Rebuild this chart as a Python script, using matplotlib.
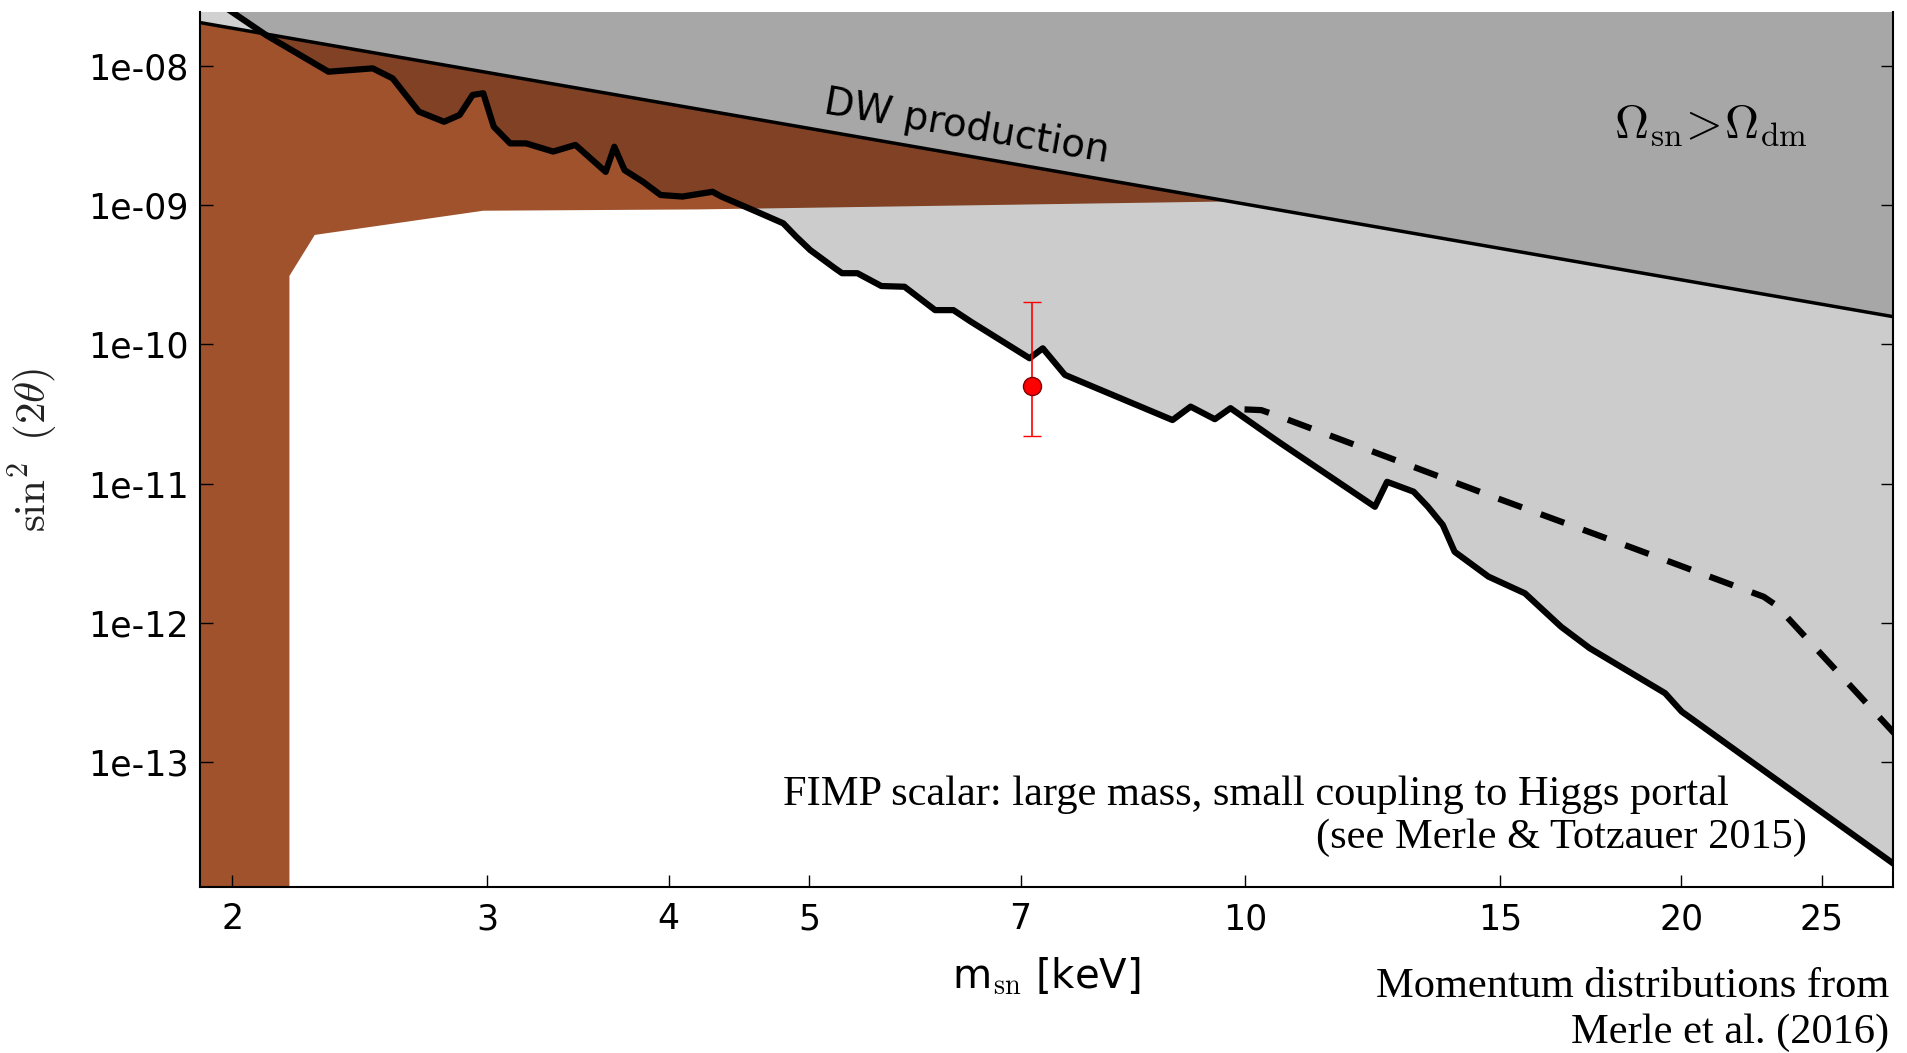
# sterile neutrino parameter space: X-ray limits, DW line, structure formation
import matplotlib
matplotlib.use('Agg')
import matplotlib.pyplot as plt

plt.rcParams['mathtext.fontset'] = 'cm'

# X-ray bound (thick solid line)
mass_xray = [1.99, 2.11, 2.33, 2.50, 2.58, 2.69, 2.80, 2.87, 2.93, 2.98,
             3.03, 3.11, 3.19, 3.33, 3.45, 3.62, 3.67, 3.73, 3.84, 3.95,
             4.09, 4.29, 4.35, 4.47, 4.63, 4.80, 4.90, 5.01, 5.21, 5.27,
             5.40, 5.61, 5.82, 6.11, 6.29, 6.47, 7.10, 7.25, 7.51, 8.91,
             9.17, 9.53, 9.77, 10.34, 10.58, 12.29, 12.53, 13.07, 13.37, 13.69,
             13.95, 14.72, 15.60, 16.52, 17.29, 19.49, 20.01, 28.2]
sin_xray = [2.51e-8, 1.66e-8, 9.06e-9, 9.57e-9, 8.12e-9, 4.68e-9, 3.96e-9, 4.43e-9, 6.17e-9, 6.34e-9,
            3.65e-9, 2.77e-9, 2.77e-9, 2.42e-9, 2.70e-9, 1.73e-9, 2.62e-9, 1.78e-9, 1.47e-9, 1.18e-9,
            1.15e-9, 1.245e-9, 1.15e-9, 1.02e-9, 8.71e-10, 7.39e-10, 5.92e-10, 4.75e-10, 3.52e-10, 3.24e-10,
            3.24e-10, 2.62e-10, 2.59e-10, 1.76e-10, 1.76e-10, 1.45e-10, 7.94e-11, 9.36e-11, 6.03e-11, 2.86e-11,
            3.57e-11, 2.90e-11, 3.48e-11, 2.30e-11, 1.95e-11, 6.82e-12, 1.03e-11, 8.75e-12, 6.82e-12, 5.05e-12,
            3.24e-12, 2.15e-12, 1.63e-12, 9.39e-13, 6.58e-13, 3.13e-13, 2.31e-13, 1.78e-14]

# dashed bound
mass_dash = [9.99, 10.26, 10.5, 14.72, 18.53, 22.8, 23.25, 28.2]
sin_dash = [3.41e-11, 3.37e-11, 3.1e-11, 8.28e-12, 3.44e-12, 1.54e-12, 1.34e-12, 1.52e-13]

# DW production line
mass_dw = [1.9, 28.0]
sin_dw = [2.04e-8, 1.58e-10]

# structure formation region (brown)
mass_brown = [1.9, 2.19, 2.19, 2.28, 2.98, 4.2, 9.7, 1.9]
sin_brown = [1e-15, 1e-15, 3.1e-10, 6.1e-10, 9.1e-10, 9.3e-10, 1.06e-9, 2.04e-8]

# 3.5 keV line point
mass_pt = 7.13
sin_pt = 5.0e-11
sin_pt_hi = 2.0e-10
sin_pt_lo = 2.2e-11

xticks = [2, 3, 4, 5, 7, 10, 15, 20, 25]
yticks = [1e-13, 1e-12, 1e-11, 1e-10, 1e-9, 1e-8]
ylabels = ['1e-13', '1e-12', '1e-11', '1e-10', '1e-09', '1e-08']

xmin, xmax = 1.9, 28.0
ymin, ymax = 1.27e-14, 2.43e-8
ytop = 1e-6

fig = plt.figure(figsize=(19.07, 10.53), dpi=100)
ax = fig.add_axes([0.1049, 0.1576, 0.8878, 0.831])
ax.set_xscale('log')
ax.set_yscale('log')

# regions
ax.fill(mass_brown, sin_brown, color='sienna', lw=0, zorder=1)
ax.fill_between(mass_dw, sin_dw, ytop, color='black', alpha=0.18, lw=0, zorder=1.2)
ax.fill_between(mass_xray, sin_xray, ytop, color='black', alpha=0.2, lw=0, zorder=1.3)

# lines
ax.plot(mass_dw, sin_dw, color='black', lw=2.5, zorder=3)
ax.plot(mass_xray, sin_xray, color='black', lw=4.5, zorder=3)
ax.plot(mass_dash, sin_dash, color='black', lw=4.5, linestyle=(0, (4.0, 3.2)), zorder=3)

# point with error bar
ax.errorbar([mass_pt], [sin_pt], yerr=[[sin_pt - sin_pt_lo], [sin_pt_hi - sin_pt]],
            fmt='o', color='red', ecolor='red', elinewidth=1.2, capsize=6.5, capthick=1.2,
            markersize=13, markeredgecolor='#800000', markeredgewidth=1, zorder=5)

ax.set_xlim(xmin, xmax)
ax.set_ylim(ymin, ymax)
ax.set_xticks(xticks)
ax.set_xticklabels([str(t) for t in xticks])
ax.xaxis.set_minor_locator(matplotlib.ticker.NullLocator())
ax.set_yticks(yticks)
ax.set_yticklabels(ylabels)
ax.yaxis.set_minor_locator(matplotlib.ticker.NullLocator())

ax.tick_params(direction='in', length=9, width=1, labelsize=25, right=True, top=False)
ax.tick_params(axis='x', pad=11)
ax.tick_params(axis='y', pad=8)
ax.spines['top'].set_visible(False)
for s in ['left', 'bottom', 'right']:
    ax.spines[s].set_linewidth(1.5)

ax.set_xlabel(r'$\mathregular{m}_{\rm sn}$ [keV]', fontsize=29, labelpad=14)
ax.set_ylabel(r'$\sin^2\ (2\theta)$', fontsize=31, labelpad=20, color='#222222')

# annotations
ax.text(0.453, 0.8686, 'DW production', transform=ax.transAxes, fontsize=28,
        rotation=-9.8, rotation_mode='anchor', ha='center', va='center')
ax.text(0.8925, 0.856, r'$\Omega_{\rm sn}\!>\!\Omega_{\rm dm}$', transform=ax.transAxes,
        fontsize=34, ha='center', va='baseline')
ax.text(0.903, 0.0937, 'FIMP scalar: large mass, small coupling to Higgs portal',
        transform=ax.transAxes, fontsize=30.5, family='Liberation Serif',
        ha='right', va='baseline')
ax.text(0.949, 0.0446, '(see Merle & Totzauer 2015)', transform=ax.transAxes,
        fontsize=30.5, family='Liberation Serif', ha='right', va='baseline')

fig.text(0.9906, 0.0532, 'Momentum distributions from', fontsize=30.5,
         family='Liberation Serif', ha='right', va='baseline')
fig.text(0.9906, 0.0095, 'Merle et al. (2016)', fontsize=30.5,
         family='Liberation Serif', ha='right', va='baseline')

fig.savefig('out.png', dpi=100)
